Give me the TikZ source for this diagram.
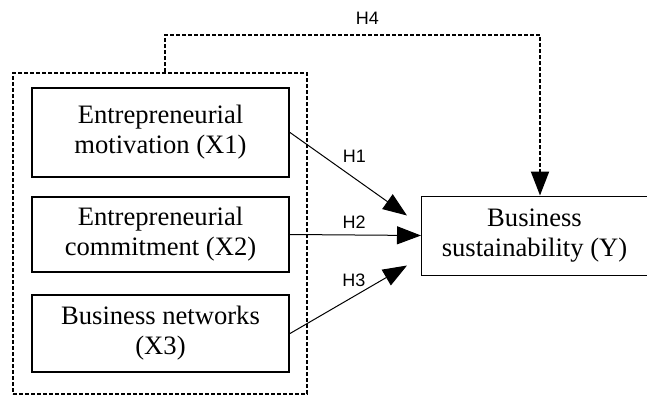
\documentclass[tikz,border=0pt]{standalone}
\usepackage{fontspec}
\setmainfont{Liberation Serif}
\newfontfamily\hypfont{Liberation Sans}
\usetikzlibrary{arrows.meta,calc}
\tikzset{%
  >={Triangle[length=12pt,width=9pt]},
  % Specifications for style of nodes:
          var/.style = {rectangle, draw=black, align=center, inner sep=0pt,
                        font=\fontsize{13.3}{15}\selectfont},
        indep/.style = {var, line width=1pt, minimum width=128.5pt},
          dep/.style = {var, line width=0.5pt},
      dotline/.style = {draw=black, line width=1pt, dash pattern=on 2pt off 1pt},
          hyp/.style = {font=\hypfont\fontsize{9}{11}\selectfont},
}

\begin{document}
\begin{tikzpicture}[x=0.5pt, y=-0.5pt, line width=0.5pt]

  \useasboundingbox (0,0) rectangle (647,396);

  \node (group) [dotline, minimum width=147pt, minimum height=160.5pt] at (160,233.5) {};

  \node (x1) [indep, minimum height=44.5pt] at (160.5,132.5) {Entrepreneurial\\ motivation (X1)};
  \node (x2) [indep, minimum height=37.5pt] at (160.5,234.5) {Entrepreneurial\\ commitment (X2)};
  \node (x3) [indep, minimum height=38.5pt] at (160.5,333.5) {Business networks\\ (X3)};

  \node (y)  [dep, minimum width=113pt, minimum height=39.5pt] at (534.5,235.5) {Business\\ sustainability (Y)};

  \draw[->] (x1.east) -- node [hyp, pos=0.55, yshift=11pt] {H1} ([shift={(-14,-20)}]y.west);
  \draw[->] (x2.east) -- node [hyp, pos=0.49, yshift=6.5pt] {H2} (y.west);
  \draw[->] (x3.east) -- node [hyp, pos=0.546, yshift=8pt] {H3} ([shift={(-14,30)}]y.west);

  \coordinate (h4a) at (165,35);
  \coordinate (h4b) at (540,35);
  \draw[->, dotline] (group.north -| h4a)
      -- (h4a)
      -- node [hyp, pos=0.54, above=1.5pt] {H4} (h4b)
      -- (h4b |- y.north);

\end{tikzpicture}
\end{document}
